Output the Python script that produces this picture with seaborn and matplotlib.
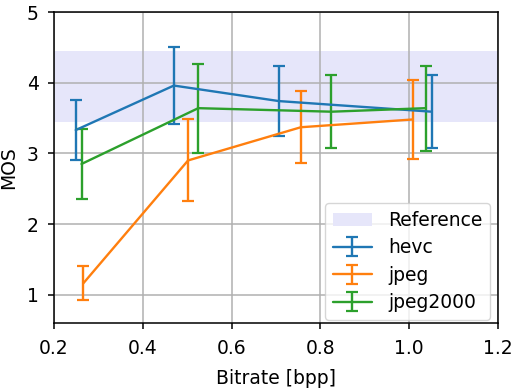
import matplotlib
matplotlib.use("Agg")
import matplotlib.pyplot as plt
import seaborn as sns
import numpy as np

# Mean opinion scores per codec with their error half-widths
hevc_bpp = [0.249, 0.470, 0.707, 1.051]
hevc_mos = [3.33, 3.96, 3.74, 3.59]
hevc_err = [0.43, 0.54, 0.50, 0.52]

jpeg_bpp = [0.266, 0.502, 0.756, 1.008]
jpeg_mos = [1.16, 2.90, 3.37, 3.48]
jpeg_err = [0.24, 0.58, 0.51, 0.56]

jpeg2000_bpp = [0.262, 0.525, 0.825, 1.037]
jpeg2000_mos = [2.85, 3.64, 3.59, 3.64]
jpeg2000_err = [0.49, 0.63, 0.52, 0.60]

reference_low, reference_high = 3.45, 4.45

codecs = ["hevc", "jpeg", "jpeg2000"]
series = [
    (hevc_bpp, hevc_mos, hevc_err),
    (jpeg_bpp, jpeg_mos, jpeg_err),
    (jpeg2000_bpp, jpeg2000_mos, jpeg2000_err),
]

sns.set_theme(style="ticks", rc={
    "axes.edgecolor": "black",
    "axes.linewidth": 1.1,
    "axes.labelcolor": "black",
    "text.color": "black",
    "xtick.color": "black",
    "ytick.color": "black",
    "grid.color": "#b0b0b0",
    "grid.linewidth": 1.1,
    "xtick.major.size": 4.5,
    "ytick.major.size": 4.5,
})
plt.rcParams["font.family"] = ["DejaVu Sans"]
colors = sns.color_palette("tab10", 3)
fs = 13.5

fig = plt.figure(figsize=(5.17, 3.90), dpi=100)
ax = fig.add_axes([0.1044, 0.172, 0.8588, 0.797])

ax.axhspan(reference_low, reference_high, color="#e6e6fa", label="Reference", zorder=0, lw=0)
for name, (x, y, e), c in zip(codecs, series, colors):
    ax.errorbar(x, y, yerr=e, color=c, lw=1.7, capsize=4.3, capthick=1.6,
                elinewidth=1.7, label=name, zorder=3)

ax.set_xlim(0.2, 1.2)
ax.set_ylim(0.6, 5)
ax.set_xticks([0.2, 0.4, 0.6, 0.8, 1.0, 1.2])
ax.set_yticks([1, 2, 3, 4, 5])
ax.grid(True, zorder=1)
ax.set_axisbelow(True)
ax.tick_params(axis="x", labelsize=fs, width=1.1, pad=7)
ax.tick_params(axis="y", labelsize=fs, width=1.1, pad=6.5)
ax.set_xlabel("Bitrate [bpp]", fontsize=fs, labelpad=8)
ax.set_ylabel("MOS", fontsize=fs, labelpad=6)

ax.legend(loc="lower right", bbox_to_anchor=(0.982, 0.01), borderaxespad=0,
          fontsize=fs, frameon=True, fancybox=True,
          framealpha=0.8, edgecolor="#cccccc", borderpad=0.4,
          handlelength=2.1, handletextpad=0.85, labelspacing=0.45)

fig.savefig("out.png", dpi=100)
